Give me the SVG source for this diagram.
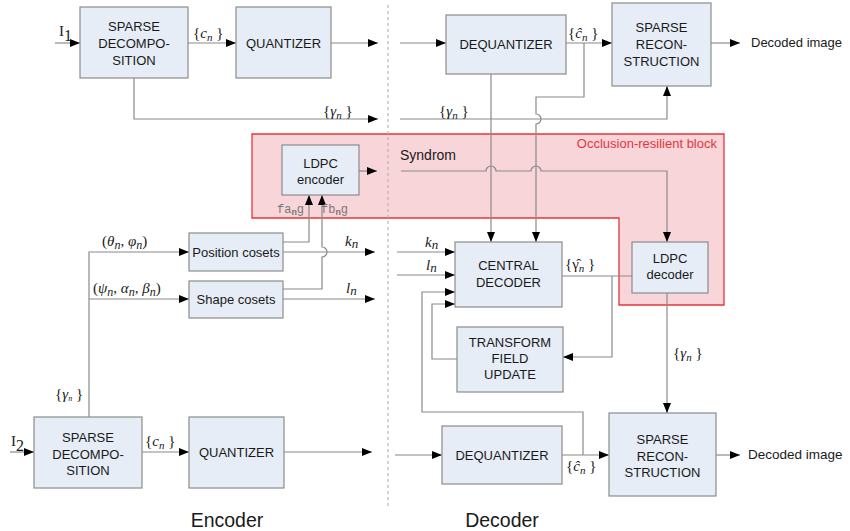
<svg xmlns="http://www.w3.org/2000/svg" width="850" height="531" viewBox="0 0 850 531">
<defs>
<marker id="ah" markerWidth="10" markerHeight="8" refX="10" refY="4" orient="auto" markerUnits="userSpaceOnUse"><path d="M0,0 L10,4 L0,8 z" fill="#000"/></marker>
<style>
.box{fill:#e6edf6;stroke:#8c8c8c;stroke-width:1.2}
.t{font-family:"Liberation Sans",Arial,sans-serif;font-size:13px;fill:#1a1a1a;text-anchor:middle}
.ln{fill:none;stroke:#8a8a8a;stroke-width:1.2}
.ar{marker-end:url(#ah)}
.m{font-family:"Liberation Serif","Times New Roman",serif;font-size:15px;fill:#1a1a1a}
.i{font-style:italic}
.f{font-family:"Liberation Mono",monospace;font-size:12px;fill:#777}
</style>
</defs>
<rect width="850" height="531" fill="#fff"/>
<g id="occlusion-block">
<polygon points="252,134 724,134 724,305 619,305 619,218 252,218" fill="#f8d5d9" stroke="#e8343a" stroke-width="1.3"/>
<text x="717" y="148" font-family="Liberation Sans,Arial,sans-serif" font-size="13" fill="#e8343a" text-anchor="end">Occlusion-resilient block</text>
</g>
<line x1="388" y1="5" x2="388" y2="508" stroke="#aaa" stroke-width="1" stroke-dasharray="3,3"/>
<g id="connectors">
<path class="ln ar" d="M55,43 H80"/>
<path class="ln ar" d="M188,43 H236"/>
<path class="ln ar" d="M331,43 H378"/>
<path class="ln ar" d="M134,78 V119 H378"/>
<path class="ln ar" d="M400,43 H446"/>
<path class="ln ar" d="M566,43 H612"/>
<path class="ln ar" d="M711,43 H740"/>
<path class="ln ar" d="M400,119 H667 V86"/>
<path class="ln ar" d="M584,43 V97 H536 V114 a5,5 0 0 1 0,10 V242"/>
<path class="ln ar" d="M491,74 V242"/>
<path class="ln ar" d="M359,171 H377"/>
<path class="ln ar" d="M401,171 H486 a5,5 0 0 1 10,0 H531 a5,5 0 0 1 10,0 H667 V242"/>
<path class="ln ar" d="M283,242 H309 V195"/>
<path class="ln ar" d="M283,289 H322 V257 a5,5 0 0 0 0,-10 V195"/>
<path class="ln ar" d="M283,252 H375"/>
<path class="ln ar" d="M283,299 H375"/>
<path class="ln ar" d="M89,417 V252 H189"/>
<path class="ln ar" d="M89,299 H189"/>
<path class="ln ar" d="M10,452 H34"/>
<path class="ln ar" d="M142,452 H189"/>
<path class="ln ar" d="M284,452 H372"/>
<path class="ln ar" d="M397,252 H455"/>
<path class="ln ar" d="M397,275 H455"/>
<path class="ln" d="M562,276 H632"/>
<path class="ln ar" d="M612,276 V357 H563"/>
<path class="ln ar" d="M457,359 H432 V304 H455"/>
<path class="ln ar" d="M583,455 V412 H422 V292 H455"/>
<path class="ln ar" d="M667,293 V413"/>
<path class="ln ar" d="M395,455 H442"/>
<path class="ln ar" d="M562,455 H609"/>
<path class="ln ar" d="M716,455 H740"/>
</g>
<g id="sparse-decomp-1"><rect class="box" x="80" y="7" width="108" height="71"/><text class="t" x="134" y="31">SPARSE</text><text class="t" x="134" y="48">DECOMPO-</text><text class="t" x="134" y="65">SITION</text></g>
<g id="quantizer-1"><rect class="box" x="236" y="7" width="95" height="71"/><text class="t" x="283.5" y="48">QUANTIZER</text></g>
<g id="dequantizer-1"><rect class="box" x="446" y="15" width="120" height="59"/><text class="t" x="506" y="49">DEQUANTIZER</text></g>
<g id="sparse-recon-1"><rect class="box" x="612" y="3" width="99" height="83"/><text class="t" x="661.5" y="32">SPARSE</text><text class="t" x="661.5" y="49">RECON-</text><text class="t" x="661.5" y="66">STRUCTION</text></g>
<g id="ldpc-encoder"><rect class="box" x="282" y="145" width="77" height="50"/><text class="t" x="320.5" y="168">LDPC</text><text class="t" x="320.5" y="184">encoder</text></g>
<g id="position-cosets"><rect class="box" x="189" y="233" width="94" height="38"/><text class="t" x="236" y="257">Position cosets</text></g>
<g id="shape-cosets"><rect class="box" x="189" y="281" width="94" height="37"/><text class="t" x="236" y="304">Shape cosets</text></g>
<g id="central-decoder"><rect class="box" x="455" y="242" width="107" height="65"/><text class="t" x="508.5" y="270">CENTRAL</text><text class="t" x="508.5" y="287">DECODER</text></g>
<g id="ldpc-decoder"><rect class="box" x="632" y="242" width="76" height="51"/><text class="t" x="670" y="263">LDPC</text><text class="t" x="670" y="279">decoder</text></g>
<g id="transform-field-update"><rect class="box" x="457" y="327" width="106" height="65"/><text class="t" x="510" y="347">TRANSFORM</text><text class="t" x="510" y="363">FIELD</text><text class="t" x="510" y="379">UPDATE</text></g>
<g id="sparse-decomp-2"><rect class="box" x="34" y="417" width="108" height="71"/><text class="t" x="88" y="442">SPARSE</text><text class="t" x="88" y="459">DECOMPO-</text><text class="t" x="88" y="475">SITION</text></g>
<g id="quantizer-2"><rect class="box" x="189" y="417" width="95" height="71"/><text class="t" x="236.5" y="457">QUANTIZER</text></g>
<g id="dequantizer-2"><rect class="box" x="442" y="426" width="120" height="58"/><text class="t" x="502" y="460">DEQUANTIZER</text></g>
<g id="sparse-recon-2"><rect class="box" x="609" y="413" width="107" height="83"/><text class="t" x="662.5" y="444">SPARSE</text><text class="t" x="662.5" y="461">RECON-</text><text class="t" x="662.5" y="477">STRUCTION</text></g>
<g id="labels">
<text class="m" x="59" y="36" font-size="21">I<tspan font-size="16" dy="5">1</tspan></text>
<text class="m" x="11" y="446" font-size="21">I<tspan font-size="16" dy="5">2</tspan></text>
<text class="m" x="193" y="38">{<tspan class="i">c</tspan><tspan class="i" font-size="11" dy="3">n</tspan><tspan dy="-3"> }</tspan></text>
<text class="m" x="323" y="116" font-size="16">{<tspan class="i">γ</tspan><tspan class="i" font-size="11" dy="3">n</tspan><tspan dy="-3"> }</tspan></text>
<text class="m" x="568" y="38">{<tspan class="i">ĉ</tspan><tspan class="i" font-size="11" dy="3">n</tspan><tspan dy="-3"> }</tspan></text>
<text class="m" x="439" y="116" font-size="16">{<tspan class="i">γ</tspan><tspan class="i" font-size="11" dy="3">n</tspan><tspan dy="-3"> }</tspan></text>
<text x="400" y="160" font-family="Liberation Sans,Arial,sans-serif" font-size="14" fill="#1a1a1a">Syndrom</text>
<text class="f" x="277" y="213">fa<tspan font-size="9" font-weight="bold" dy="2">n</tspan><tspan dy="-2">g</tspan></text>
<text class="f" x="321" y="213">fb<tspan font-size="9" font-weight="bold" dy="2">n</tspan><tspan dy="-2">g</tspan></text>
<text class="m" x="102" y="246" font-size="17">(<tspan class="i">θ</tspan><tspan class="i" font-size="12" dy="3">n</tspan><tspan dy="-3">, </tspan><tspan class="i">φ</tspan><tspan class="i" font-size="12" dy="3">n</tspan><tspan dy="-3">)</tspan></text>
<text class="m" x="93" y="293" font-size="17">(<tspan class="i">ψ</tspan><tspan class="i" font-size="12" dy="3">n</tspan><tspan dy="-3">, </tspan><tspan class="i">α</tspan><tspan class="i" font-size="12" dy="3">n</tspan><tspan dy="-3">, </tspan><tspan class="i">β</tspan><tspan class="i" font-size="12" dy="3">n</tspan><tspan dy="-3">)</tspan></text>
<text class="m i" x="345" y="246" font-size="19">k<tspan font-size="13" dy="2">n</tspan></text>
<text class="m i" x="346" y="293" font-size="19">l<tspan font-size="13" dy="2">n</tspan></text>
<text class="m i" x="425" y="247" font-size="19">k<tspan font-size="13" dy="2">n</tspan></text>
<text class="m i" x="426" y="270" font-size="19">l<tspan font-size="13" dy="2">n</tspan></text>
<text class="m" x="565" y="269" font-size="16">{γ̂<tspan class="i" font-size="11" dy="3">n</tspan><tspan dy="-3"> }</tspan></text>
<text class="m" x="673" y="358" font-size="16">{<tspan class="i">γ</tspan><tspan class="i" font-size="11" dy="3">n</tspan><tspan dy="-3"> }</tspan></text>
<text class="m" x="55" y="399" font-size="12">{<tspan class="i">γ</tspan><tspan class="i" font-size="8" dy="2">n</tspan><tspan dy="-2"> }</tspan></text>
<text class="m" x="145" y="446">{<tspan class="i">c</tspan><tspan class="i" font-size="11" dy="3">n</tspan><tspan dy="-3"> }</tspan></text>
<text class="m" x="566" y="471">{<tspan class="i">ĉ</tspan><tspan class="i" font-size="11" dy="3">n</tspan><tspan dy="-3"> }</tspan></text>
<text x="751" y="47" font-family="Liberation Sans,Arial,sans-serif" font-size="13" fill="#1a1a1a">Decoded image</text>
<text x="748" y="459" font-family="Liberation Sans,Arial,sans-serif" font-size="13.5" fill="#1a1a1a">Decoded image</text>
<text x="227" y="527" font-family="Liberation Sans,Arial,sans-serif" font-size="19.5" fill="#1a1a1a" text-anchor="middle">Encoder</text>
<text x="502" y="527" font-family="Liberation Sans,Arial,sans-serif" font-size="19.5" fill="#1a1a1a" text-anchor="middle">Decoder</text>
</g>
</svg>
